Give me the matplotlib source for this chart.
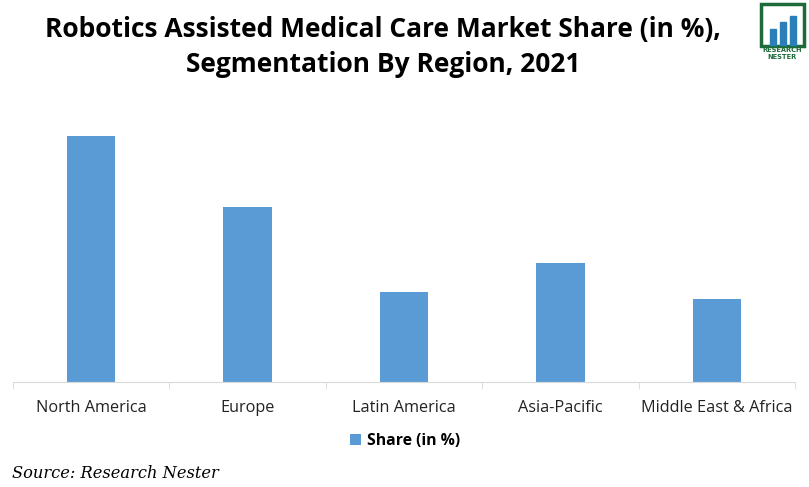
import matplotlib
matplotlib.use("Agg")
import matplotlib.pyplot as plt
from matplotlib.patches import Rectangle

# data (share in %)
regions = ["North America", "Europe", "Latin America", "Asia-Pacific", "Middle East & Africa"]
share = [34.5, 24.5, 12.6, 16.7, 11.6]

bar_color = "#5b9bd5"

fig = plt.figure(figsize=(8.09, 4.87), dpi=100)
W, H = 809, 487
ax = fig.add_axes([13 / W, 1 - 382 / H, (795 - 13) / W, (382 - 120) / H])

x = range(len(regions))
ax.bar(x, share, width=0.31, color=bar_color, label="Share (in %)")
ax.set_xlim(-0.5, len(regions) - 0.5)
ax.set_ylim(0, 34.5 * 262 / 246)

for s in ["top", "right", "left"]:
    ax.spines[s].set_visible(False)
ax.spines["bottom"].set_color("#d9d9d9")
ax.set_yticks([])
ax.set_xticks([i - 0.5 for i in range(len(regions) + 1)], minor=True)
ax.tick_params(axis="x", which="minor", length=5, color="#d9d9d9")
ax.tick_params(axis="x", which="major", length=0, pad=13)
ax.set_xticks(list(x))
ax.set_xticklabels(regions, fontsize=11.7, family="Open Sans", color="#222222")

fig.text(383 / W, 1 - 30 / H, "Robotics Assisted Medical Care Market Share (in %),",
         ha="center", va="center", fontsize=19, fontweight="bold", family="Open Sans")
fig.text(383 / W, 1 - 64 / H, "Segmentation By Region, 2021",
         ha="center", va="center", fontsize=19, fontweight="bold", family="Open Sans")

leg = fig.legend(loc="center", bbox_to_anchor=(405 / W, 1 - 441 / H), frameon=False,
                 prop={"family": "Open Sans", "weight": "bold", "size": 11.3},
                 handlelength=0.7, handleheight=0.7, handletextpad=0.4)

fig.text(12 / W, 1 - 473 / H, "Source: Research Nester", ha="left", va="center",
         fontsize=11.7, style="italic", family="DejaVu Serif")

# logo
lx, ly, lw, lh = 761, 4, 43, 42
fig.patches.append(Rectangle((lx / W, 1 - (ly + lh) / H), lw / W, lh / H, transform=fig.transFigure,
                             fill=False, edgecolor="#1e6b3a", linewidth=2.5))
for bx, bh in [(770, 16), (780, 23), (790, 29)]:
    fig.patches.append(Rectangle((bx / W, 1 - (ly + lh - 1) / H), 6 / W, bh / H,
                                 transform=fig.transFigure, color="#2b7fb8"))
fig.text(782 / W, 1 - 50 / H, "RESEARCH", ha="center", va="center", fontsize=4.8,
         fontweight="bold", color="#1e6b3a")
fig.text(782 / W, 1 - 57 / H, "NESTER", ha="center", va="center", fontsize=4.8,
         fontweight="bold", color="#1e6b3a")

fig.savefig("out.png", dpi=100)
